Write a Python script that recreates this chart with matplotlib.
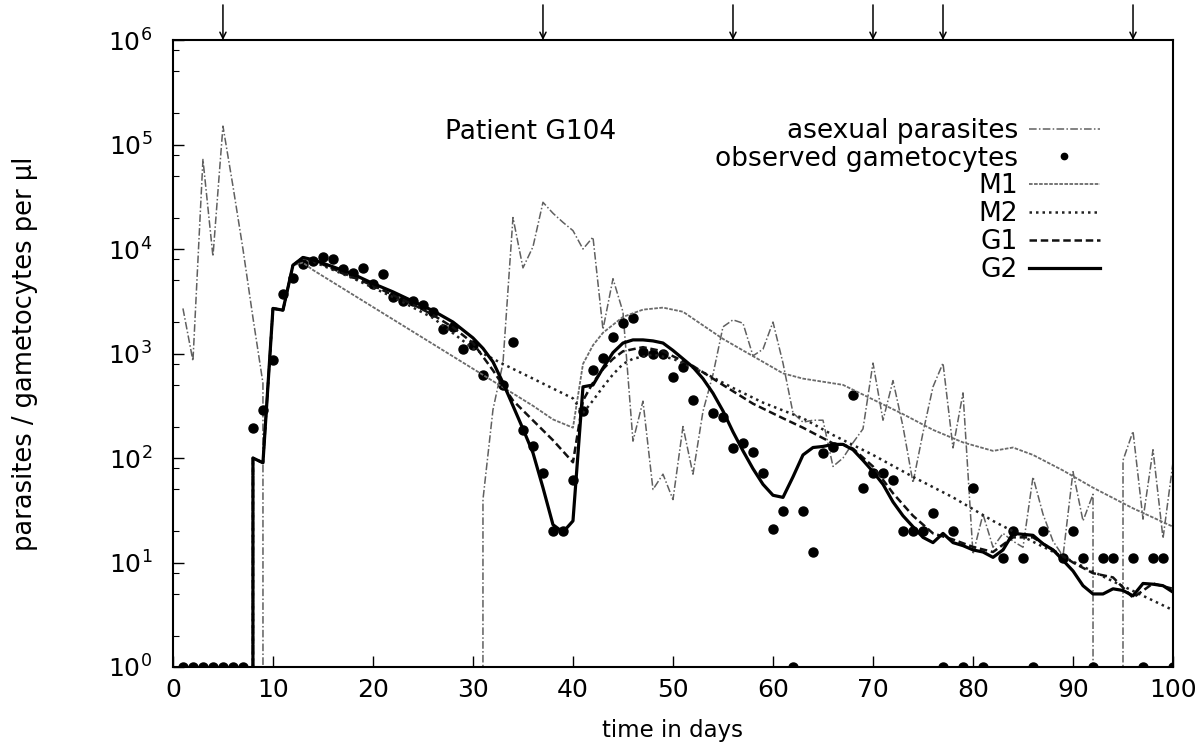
import matplotlib
matplotlib.use("Agg")
import matplotlib.pyplot as plt

plt.rcParams['font.family'] = ['DejaVu Sans']

# asexual parasites per ul, one reading per day (0 = none seen)
asex_day = list(range(1, 101))
asex_val = [2700, 850, 72000, 8500, 150000, 40000, 10000, 2200, 520, 0,
            0, 0, 0, 0, 0, 0, 0, 0, 0, 0,
            0, 0, 0, 0, 0, 0, 0, 0, 0, 0,
            40, 290, 810, 20000, 6600, 10500, 28000, 22000, 18000, 15000,
            10000, 13000, 1700, 5200, 2500, 145, 350, 50, 70, 40,
            200, 70, 280, 630, 1800, 2100, 1950, 950, 1100, 2000,
            810, 270, 220, 230, 230, 83, 100, 140, 190, 810,
            230, 550, 200, 58, 175, 480, 810, 125, 420, 12,
            29, 14, 19, 16, 14, 66, 29, 16, 11.5, 74,
            25, 45, 0, 0, 95, 180, 26, 120, 17, 91]

# observed gametocytes per ul (zero counts drawn on the 10^0 line)
gam_day = [1, 2, 3, 4, 5, 6, 7, 8, 9, 10, 11, 12, 13, 14, 15, 16, 17, 18, 19, 20,
           21, 22, 23, 24, 25, 26, 27, 28, 29, 30, 31, 33, 34, 35, 36, 37, 38, 39, 40,
           41, 42, 43, 44, 45, 46, 47, 48, 49, 50, 51, 52, 54, 55, 56, 57, 58, 59, 60,
           61, 62, 63, 64, 65, 66, 68, 69, 70, 71, 72, 73, 74, 75, 76, 77, 78, 79, 80,
           81, 83, 84, 85, 86, 87, 89, 90, 91, 92, 93, 94, 96, 97, 98, 99, 100]
gam_val = [1, 1, 1, 1, 1, 1, 1, 195, 290, 870, 3700, 5300, 7200, 7700, 8300, 8000, 6500, 5900, 6600, 4600,
           5800, 3500, 3200, 3200, 2900, 2500, 1700, 1800, 1100, 1200, 620, 500, 1300, 185, 130, 72, 20, 20, 62,
           280, 690, 900, 1450, 1950, 2200, 1030, 980, 1000, 590, 740, 360, 270, 245, 126, 140, 115, 72, 21,
           31, 1, 31, 12.6, 112, 128, 400, 52, 72, 72, 62, 20, 20, 20, 30, 1, 20, 1, 52,
           1, 11, 20, 11, 1, 20, 11, 20, 11, 1, 11, 11, 11, 1, 11, 11, 1]

# model M1
m1_day = [7, 8, 9, 10, 11, 12, 13, 14, 36, 38, 40, 41, 42, 43, 45, 47, 49, 51, 53, 55,
          57, 59, 61, 63, 65, 67, 70, 73, 76, 79, 82, 84, 86, 89, 92, 96, 100]
m1_val = [0, 100, 90, 2700, 2600, 7000, 7400, 6300, 316, 234, 195, 794, 1200, 1580, 2240, 2630, 2750, 2510, 1860, 1380,
          1070, 832, 646, 575, 537, 501, 363, 263, 186, 141, 117, 126, 107, 76, 52, 33, 22]

# model M2
m2_day = [7, 8, 9, 10, 11, 12, 13, 14, 18, 22, 26, 30, 33, 36, 40, 41, 42, 43, 44, 45,
          46, 48, 50, 53, 56, 59, 63, 66, 70, 74, 78, 82, 86, 90, 94, 100]
m2_val = [0, 100, 90, 2700, 2600, 7000, 8300, 7600, 5250, 3470, 2190, 1120, 794, 575, 372, 269, 355, 479, 631, 794,
          891, 977, 891, 661, 468, 339, 240, 166, 107, 66, 42, 25, 15.8, 10.2, 6.6, 3.5]

# model G1
g1_day = [7, 8, 9, 10, 11, 12, 13, 14, 16, 18, 20, 22, 24, 26, 28, 30, 32, 34, 36, 38,
          40, 41, 42, 43, 44, 45, 47, 49, 52, 55, 58, 61, 63, 66, 67, 68, 70, 72, 74, 76,
          78, 80, 82, 84, 86, 88, 90, 92, 94, 96, 98, 100]
g1_val = [0, 100, 90, 2700, 2600, 7000, 8300, 7800, 6460, 5370, 4470, 3630, 2950, 2340, 1780, 1260, 690, 355, 229, 148,
          91, 355, 525, 708, 890, 1050, 1150, 1050, 760, 500, 331, 240, 195, 138, 135, 123, 83, 46, 28, 19,
          16.6, 14.1, 12.6, 17.4, 17.4, 13.2, 10, 7.9, 7.2, 4.6, 6.3, 5.6]

# model G2
g2_day = [7, 8, 9, 10, 11, 12, 13, 14, 16, 18, 20, 22, 24, 26, 28, 30, 31, 32, 33, 34,
          35, 36, 37, 38, 39, 40] + list(range(41, 101))
g2_val = [0, 100, 90, 2700, 2600, 7000, 8300, 7900, 6760, 5750, 4680, 3890, 3160, 2570, 2000, 1410, 1120, 832, 525, 316,
          190, 112, 52, 23, 19.5, 25,
          480, 500, 725, 1020, 1260, 1350, 1350, 1320, 1260, 1070,
          890, 740, 575, 417, 282, 178, 117, 79, 56, 44,
          42, 66, 107, 126, 129, 135, 135, 120, 95, 74,
          56, 38, 28, 22, 17.4, 15.5, 19, 15.5, 14.5, 13.2,
          12.6, 11.2, 13.2, 19, 18.6, 18.2, 15.1, 13.2, 10.5, 8.3,
          6.0, 5.0, 5.0, 5.6, 5.4, 4.8, 6.3, 6.2, 6.0, 5.2]

# treatment days (arrows on top)
treat_day = [5, 37, 56, 70, 77, 96]

# axis ticks
x_ticks = list(range(0, 101, 10))
y_ticks = [1, 10, 100, 1000, 10000, 100000, 1000000]
y_minor = [m * t for t in y_ticks[:-1] for m in (2, 5, 8)]

fig = plt.figure(figsize=(12.01, 7.44), dpi=100)
ax = fig.add_axes([0.144, 0.1035, 0.8327, 0.8427])
ax.set_yscale('log', nonpositive='clip')

ax.plot(asex_day, asex_val, color='#606060', lw=1.1, dashes=(5, 1.5, 1, 1.5),
        label='asexual parasites')
ax.plot(gam_day, gam_val, 'o', color='black', ms=6.5, label='observed gametocytes')
ax.plot(m1_day, m1_val, color='#6a6a6a', lw=1.3, dashes=(2, 0.8), label='M1')
ax.plot(m2_day, m2_val, color='#222222', lw=1.8, dashes=(1, 1.6), label='M2')
ax.plot(g1_day, g1_val, color='#111111', lw=1.8, dashes=(3, 1.5), label='G1')
ax.plot(g2_day, g2_val, color='black', lw=2.3, label='G2')

for d in treat_day:
    ax.annotate('', xy=(d, 1.0), xycoords=('data', 'axes fraction'),
                xytext=(d, 1.056), textcoords=('data', 'axes fraction'),
                arrowprops=dict(arrowstyle='->', lw=1.1, color='black',
                                shrinkA=0, shrinkB=0, mutation_scale=11),
                annotation_clip=False)

ax.set_xlim(0, 100)
ax.set_ylim(1, 1e6)
ax.set_xticks(x_ticks)
ax.set_yticks(y_ticks)
ax.set_yticks(y_minor, minor=True)
ax.set_yticklabels([], minor=True)
ax.tick_params(axis='both', which='major', direction='in', length=8, width=1,
               labelsize=18, top=False, right=False)
ax.tick_params(axis='x', which='major', pad=8)
ax.tick_params(axis='y', which='major', pad=15)
ax.tick_params(axis='y', which='minor', direction='in', length=4, width=0.8,
               right=False, labelleft=False)
for s in ax.spines.values():
    s.set_linewidth(1.5)

ax.set_xlabel('time in days', fontsize=16.5, labelpad=12)
ax.set_ylabel('parasites / gametocytes per \u00b5l', fontsize=18.5)
ax.yaxis.set_label_coords(-0.135, 0.5)

ax.text(0.272, 0.853, 'Patient G104', transform=ax.transAxes, fontsize=19,
        va='center', ha='left')

leg = ax.legend(loc='upper right', bbox_to_anchor=(0.927, 0.876), frameon=False,
                markerfirst=False, fontsize=19, handlelength=2.7, handletextpad=0.4,
                labelspacing=0.07, borderpad=0, borderaxespad=0, numpoints=1,
                markerscale=0.7)

fig.savefig('out.png', dpi=100)
